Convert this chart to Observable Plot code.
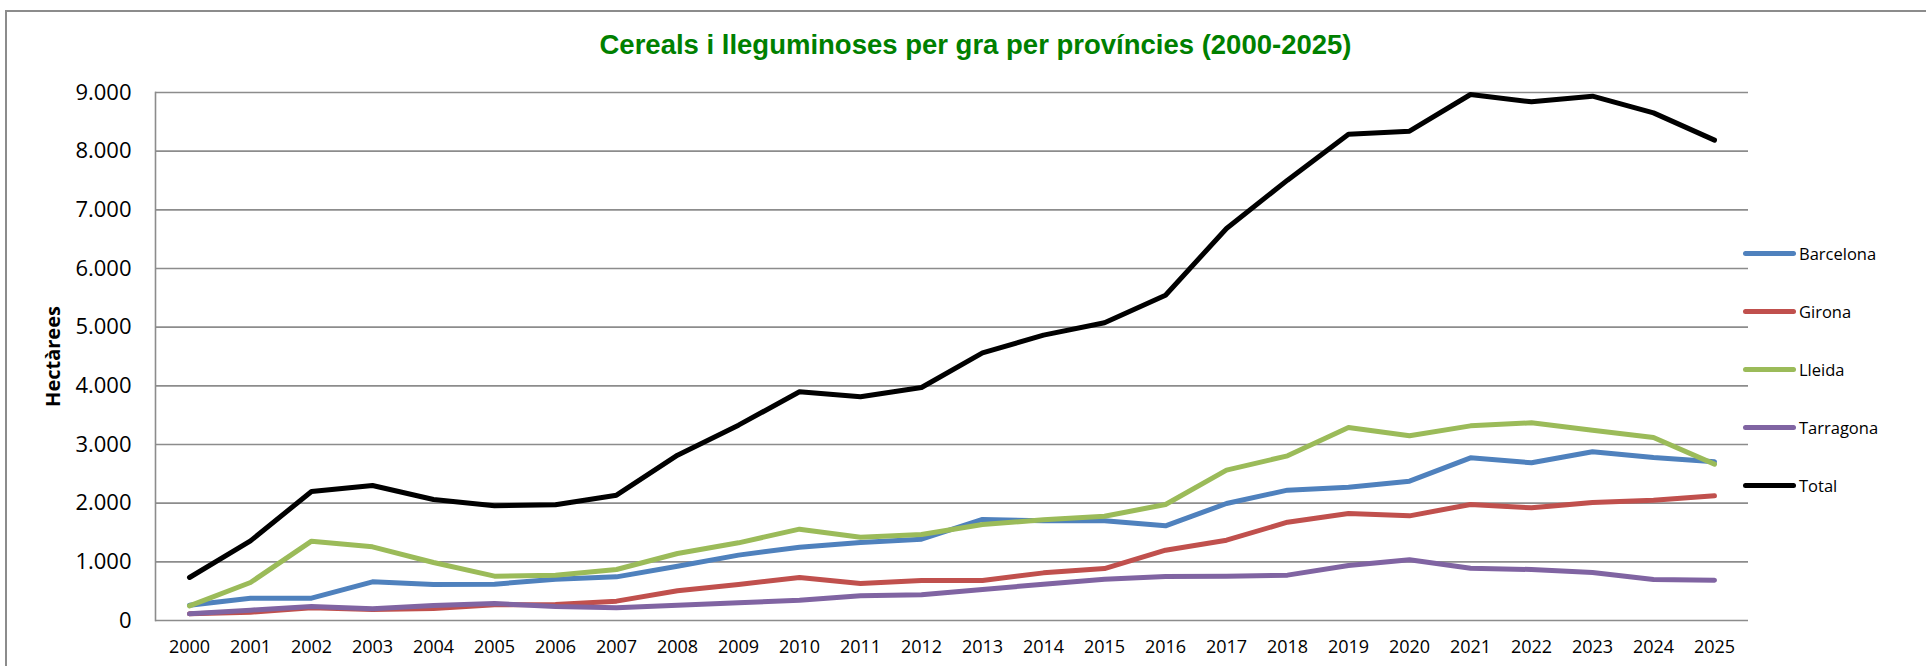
<!DOCTYPE html>
<html>
<head>
<meta charset="utf-8">
<script src="https://cdn.jsdelivr.net/npm/d3@7"></script>
<script src="https://cdn.jsdelivr.net/npm/@observablehq/plot@0.6"></script>
<style>
  body { margin: 0; background: #fff; }
  #wrap { position: relative; width: 1926px; height: 666px; overflow: hidden; background: #fff; }
  #title { height: 70px; box-sizing: border-box; padding-top: 31px; padding-left: 25px; text-align: center;
           font-family: "Liberation Sans", Arial, sans-serif; font-weight: bold; font-size: 27.5px; line-height: 27.5px; color: #008000; }
  #border { position: absolute; left: 5px; top: 10px; width: 1980px; height: 720px; border: 2px solid #8c8c8c; box-sizing: border-box; pointer-events: none; }
  #legend { position: absolute; left: 1743px; top: 0; font-family: "Open Sans", sans-serif; font-size: 16.5px; color: #000; }
  .row { position: absolute; left: 0; height: 24px; display: flex; align-items: center; white-space: nowrap; }
  .sw { width: 53px; height: 5px; border-radius: 3px; margin-right: 3px; }
</style>
</head>
<body>
<div id="wrap">
  <div id="title">Cereals i lleguminoses per gra per províncies (2000-2025)</div>
  <div id="chart"></div>
  <div id="legend"></div>
  <div id="border"></div>
</div>
<script>
const years = ["2000","2001","2002","2003","2004","2005","2006","2007","2008","2009","2010","2011","2012",
               "2013","2014","2015","2016","2017","2018","2019","2020","2021","2022","2023","2024","2025"];
const seriesNames = ["Barcelona", "Girona", "Lleida", "Tarragona", "Total"];
const seriesColors = ["#4F81BD", "#C0504D", "#9BBB59", "#8064A2", "#000000"];

const barcelona = [261, 381, 381, 659, 614, 619, 705, 744, 926, 1114, 1250, 1330, 1386,
                   1722, 1699, 1699, 1614, 1994, 2222, 2273, 2375, 2773, 2688, 2875, 2778, 2705];
const girona    = [114, 142, 216, 188, 205, 267, 273, 330, 506, 614, 733, 631, 682,
                   682, 812, 886, 1199, 1369, 1676, 1824, 1784, 1977, 1920, 2011, 2051, 2125];
const lleida    = [250, 648, 1352, 1256, 989, 756, 773, 869, 1142, 1324, 1557, 1420, 1466,
                   1636, 1716, 1778, 1977, 2563, 2807, 3290, 3148, 3318, 3369, 3244, 3119, 2665];
const tarragona = [114, 176, 239, 199, 256, 290, 239, 216, 261, 301, 347, 420, 438,
                   528, 619, 705, 750, 756, 773, 938, 1034, 892, 869, 818, 699, 688];
const total     = [733, 1358, 2199, 2301, 2062, 1955, 1972, 2136, 2818, 3330, 3898, 3813, 3972,
                   4563, 4864, 5074, 5545, 6682, 7506, 8290, 8341, 8966, 8841, 8938, 8653, 8188];
const yTicks = [0, 1000, 2000, 3000, 4000, 5000, 6000, 7000, 8000, 9000];
const yLabel = "Hectàrees";

const seriesValues = [barcelona, girona, lleida, tarragona, total];
const data = seriesNames.flatMap((name, s) =>
  years.map((year, i) => ({ year, value: seriesValues[s][i], serie: name })));

const loc = d3.formatLocale({ decimal: ",", thousands: ".", grouping: [3], currency: ["", "€"] });
const fmt = loc.format(",.0f");

const chart = Plot.plot({
  width: 1926,
  height: 596,
  marginLeft: 155,
  marginRight: 178,
  marginTop: 22,
  marginBottom: 46,
  x: { type: "point", domain: years, padding: 0.5 },
  y: { domain: [0, 9000] },
  color: { domain: seriesNames, range: seriesColors },
  style: { fontFamily: "'Open Sans', sans-serif", background: "white", color: "#000", overflow: "visible" },
  marks: [
    Plot.gridY(yTicks, { stroke: "#8c8c8c", strokeOpacity: 1, strokeWidth: 1.6 }),
    Plot.frame({ anchor: "left", stroke: "#8c8c8c", strokeWidth: 1.6 }),
    Plot.axisY(yTicks, { tickSize: 0, tickPadding: 24, tickFormat: fmt, fontSize: 22, label: null }),
    Plot.axisX({ tickSize: 0, tickPadding: 20, fontSize: 18, label: null }),
    Plot.lineY(data, { x: "year", y: "value", z: "serie", stroke: "serie", strokeWidth: 5,
                       strokeLinecap: "round", strokeLinejoin: "round" }),
    Plot.text([yLabel], { frameAnchor: "left", textAnchor: "middle", dx: -102, rotate: -90,
                          fontSize: 20, fontWeight: "bold" })
  ]
});
document.getElementById("chart").appendChild(chart);

const legend = document.getElementById("legend");
const rowCenters = [253, 311, 369, 427, 485];
seriesNames.forEach((name, i) => {
  const row = document.createElement("div");
  row.className = "row";
  row.style.top = (rowCenters[i] - 12) + "px";
  const sw = document.createElement("div");
  sw.className = "sw";
  sw.style.background = seriesColors[i];
  const t = document.createElement("span");
  t.textContent = name;
  row.appendChild(sw);
  row.appendChild(t);
  legend.appendChild(row);
});
</script>
</body>
</html>
